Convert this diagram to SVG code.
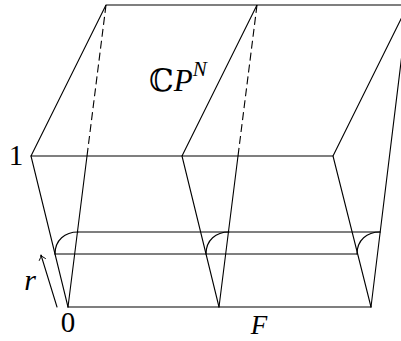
<svg xmlns="http://www.w3.org/2000/svg" width="401" height="341" viewBox="0 0 401 341">
<style>
.l{stroke:#000;stroke-width:1.1;fill:none;stroke-linecap:round}
.d{stroke-dasharray:8,4;stroke-linecap:butt}
.t{font-family:"Liberation Serif","DejaVu Serif",serif;fill:#000}
.i{font-style:italic}
</style>
<defs>
<marker id="ah" markerWidth="10" markerHeight="10" refX="8" refY="5" orient="auto" markerUnits="userSpaceOnUse">
<path d="M3,1.5 Q6,4.5 8,5 Q6,5.5 3,8.5" fill="none" stroke="#000" stroke-width="0.9"/>
</marker>
</defs>
<rect width="401" height="341" fill="#fff"/>
<g id="box">
<path class="l" d="M106,5 L408,5 M106,5 L31,156 M257,5 L182,156 M408,5 L333,156 M31,156 L333,156 M68,307 L371,307"/>
<path class="l d" d="M106,5 L87,156 M257,5 L238,156"/>
<path class="l" d="M87,156 L68,307 M238,156 L219,307 M408,5 L371,307"/>
<path class="l" d="M31,156 L68,307 M182,156 L219,307 M333,156 L371,307"/>
</g>
<g id="tube">
<path class="l" d="M55,254 L357,254 M78,232 L380,232"/>
<path class="l" d="M55,254 C55,240 65,232 78,232 M206,254 C206,240 216,232 229,232 M357,254 C357,240 367,232 380,232"/>
</g>
<g id="connectors">
<path class="l" d="M57,307 L41,255" marker-end="url(#ah)"/>
</g>
<g id="labels">
<text class="t" x="16" y="165" font-size="29" text-anchor="middle">1</text>
<text class="t" x="68" y="332" font-size="29" text-anchor="middle">0</text>
<text class="t i" x="30" y="290" font-size="30" text-anchor="middle">r</text>
<text class="t i" x="259" y="334" font-size="27" text-anchor="middle">F</text>
<text class="t" x="149" y="91" font-size="31">ℂ<tspan class="i">P</tspan><tspan class="i" font-size="21" dy="-15">N</tspan></text>
</g>
</svg>
